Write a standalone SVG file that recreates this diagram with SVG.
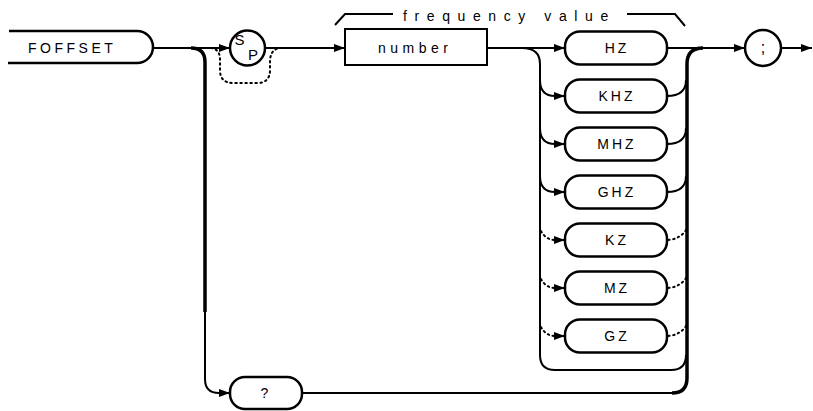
<svg xmlns="http://www.w3.org/2000/svg" width="813" height="411" viewBox="0 0 813 411">
<style>
text{font-family:"Liberation Sans",Arial,sans-serif;fill:#000}
.lbl{font-size:14px;letter-spacing:3px;text-anchor:middle}
.box{fill:#fff;stroke:#000;stroke-width:2.5}
.ln{fill:none;stroke:#000;stroke-width:2}
.thick{fill:none;stroke:#000;stroke-width:3.5}
.dot{fill:none;stroke:#000;stroke-width:2;stroke-dasharray:1.5 3.5;stroke-linecap:round}
</style>
<defs>
<marker id="arr" viewBox="0 0 11 8" refX="11" refY="4" markerWidth="11" markerHeight="8" orient="auto" markerUnits="userSpaceOnUse">
<path d="M0,0 L11,4 L0,8 z" fill="#000" stroke="none"/>
</marker>
</defs>
<g id="connectors">
<path class="ln" d="M153 48 H230" marker-end="url(#arr)"/>
<path class="thick" d="M191 48 Q205 48 205 62 V312"/>
<path class="ln" d="M205 310 V379 Q205 393 219 393 L230 393" marker-end="url(#arr)"/>
<path class="dot" d="M211 48 Q220 49 220 60 V70 Q220 83 233 83 H257 Q270 83 270 70 V60 Q271 49 280 48"/>
<path class="ln" d="M265 48 H345" marker-end="url(#arr)"/>
<path class="ln" d="M487 48 H565" marker-end="url(#arr)"/>
<path class="ln" d="M522 48 Q540 48 540 64 V355 Q540 370 555 370 H671 Q686 370 686 355"/>
<path class="ln" d="M540 80 Q540 96 555 96 L565 96" marker-end="url(#arr)"/>
<path class="ln" d="M540 128 Q540 144 555 144 L565 144" marker-end="url(#arr)"/>
<path class="ln" d="M540 176 Q540 192 555 192 L565 192" marker-end="url(#arr)"/>
<path class="dot" d="M541 231 Q546 240 555 240"/>
<path class="ln" d="M556 240 L565 240" marker-end="url(#arr)"/>
<path class="dot" d="M541 279 Q546 288 555 288"/>
<path class="ln" d="M556 288 L565 288" marker-end="url(#arr)"/>
<path class="dot" d="M541 327 Q546 336 555 336"/>
<path class="ln" d="M556 336 L565 336" marker-end="url(#arr)"/>
<path class="ln" d="M667 96 Q686 96 686 80"/>
<path class="ln" d="M667 144 Q686 144 686 128"/>
<path class="ln" d="M667 192 Q686 192 686 176"/>
<path class="dot" d="M668 240 Q680 239 686 230"/>
<path class="dot" d="M668 288 Q680 287 686 278"/>
<path class="dot" d="M668 336 Q680 335 686 326"/>
<path class="thick" d="M703 48 Q687 48 687 64 V378 Q687 393 672 393"/>
<path class="ln" d="M673 393 H302"/>
<path class="ln" d="M667 48 H745" marker-end="url(#arr)"/>
<path class="ln" d="M781 48 H812" marker-end="url(#arr)"/>
<path class="ln" d="M335 25 L345 14 H393"/>
<path class="ln" d="M627 14 H675 L685 26"/>
</g>
<g id="foffset">
<path class="box" d="M9 31 H137 A16 16 0 0 1 137 63 H8"/>
<text x="28" y="53" style="font-size:14px;letter-spacing:3.5px">FOFFSET</text>
</g>
<g id="sp">
<circle cx="247.5" cy="48" r="17.5" class="box"/>
<text x="239.5" y="45" style="font-size:15px;text-anchor:middle">S</text>
<text x="253" y="60" style="font-size:15px;text-anchor:middle">P</text>
</g>
<g id="number">
<rect x="345" y="29" width="142" height="36" fill="#fff" stroke="#000" stroke-width="2"/>
<text x="378" y="53" style="font-size:14px;letter-spacing:4.5px">number</text>
</g>
<g id="freqlabel">
<text x="403" y="21" style="font-size:14px;letter-spacing:7.6px">frequency value</text>
</g>
<g id="hz"><rect class="box" x="565" y="31.5" width="102" height="33" rx="15"/><text class="lbl" x="617" y="53">HZ</text></g>
<g id="khz"><rect class="box" x="565" y="79.5" width="102" height="33" rx="15"/><text class="lbl" x="617" y="101">KHZ</text></g>
<g id="mhz"><rect class="box" x="565" y="127.5" width="102" height="33" rx="15"/><text class="lbl" x="617" y="149">MHZ</text></g>
<g id="ghz"><rect class="box" x="565" y="175.5" width="102" height="33" rx="15"/><text class="lbl" x="617" y="197">GHZ</text></g>
<g id="kz"><rect class="box" x="565" y="223.5" width="102" height="33" rx="15"/><text class="lbl" x="617" y="245">KZ</text></g>
<g id="mz"><rect class="box" x="565" y="271.5" width="102" height="33" rx="15"/><text class="lbl" x="617" y="293">MZ</text></g>
<g id="gz"><rect class="box" x="565" y="319.5" width="102" height="33" rx="15"/><text class="lbl" x="617" y="341">GZ</text></g>
<g id="query"><rect class="box" x="230" y="377" width="72" height="32" rx="15"/><text class="lbl" x="266" y="398">?</text></g>
<g id="semicolon">
<circle cx="763" cy="48" r="18" class="box"/>
<text x="763" y="53" style="font-size:16px;text-anchor:middle">;</text>
</g>
</svg>
